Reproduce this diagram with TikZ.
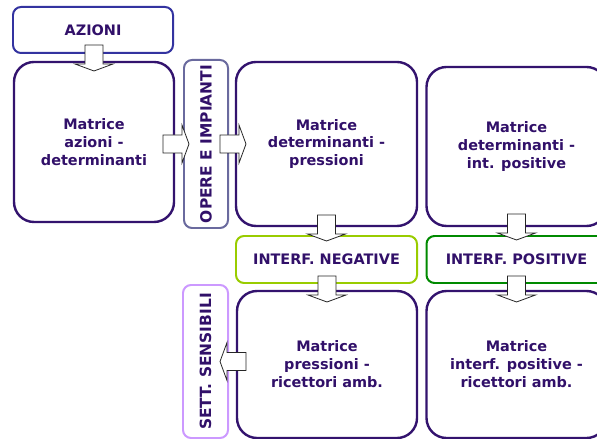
\documentclass[tikz,border=0pt]{standalone}
\usepackage{fontspec}
\newfontfamily\vfont{DejaVu Sans}
\usetikzlibrary{calc}
\definecolor{txt}{HTML}{311069}
\definecolor{mborder}{HTML}{33136E}
\definecolor{azborder}{HTML}{3333A0}
\definecolor{opborder}{HTML}{6A6A9E}
\definecolor{setborder}{HTML}{CC99FF}
\definecolor{negborder}{HTML}{99CC00}
\definecolor{posborder}{HTML}{008A00}
\tikzset{
  lbl/.style={text=txt, font=\vfont\bfseries\fontsize{14.5}{18}\selectfont, align=center, inner sep=2pt, outer sep=0pt},
  mbox/.style={lbl, draw=mborder, line width=2.4pt, rounded corners=20bp, fill=white},
  sbox/.style={lbl, draw=#1, line width=2pt, rounded corners=8bp, fill=white},
  vlbl/.style={font=\vfont\bfseries\fontsize{15.5}{18}\selectfont, rotate=90},
  blkstyle/.style={draw=black!85, fill=white, line width=0.8pt, line join=miter},
  blk/.pic={\draw[blkstyle] (-9,-26) -- (9,-26) -- (9,-7) -- (19,-7) -- (0,0) -- (-19,-7) -- (-9,-7) -- cycle;}
}
\begin{document}
\begin{tikzpicture}[x=1bp,y=-1bp]
\useasboundingbox (0,0) rectangle (597,439);
% boxes
\node[sbox=azborder, minimum width=160bp, minimum height=46bp] (az) at (93,30) {AZIONI};
\node[mbox, minimum width=160bp, minimum height=160bp] (m1) at (94,142) {Matrice\\azioni -\\determinanti};
\node[sbox=opborder, minimum width=44bp, minimum height=168bp] (op) at (206,144) {};
\node[lbl, vlbl] at (op.center) {OPERE E IMPIANTI};
\node[mbox, minimum width=181bp, minimum height=164bp] (m2) at (326.5,144) {Matrice\\determinanti -\\pressioni};
\node[mbox, minimum width=180bp, minimum height=159bp] (m3) at (516.5,146.5) {Matrice\\determinanti -\\int. positive};
\node[sbox=negborder, minimum width=181bp, minimum height=47bp] (neg) at (326.5,259.5) {INTERF. NEGATIVE};
\node[sbox=posborder, minimum width=180bp, minimum height=47bp] (pos) at (516.5,259.5) {INTERF. POSITIVE};
\node[mbox, minimum width=180bp, minimum height=147bp] (m4) at (327,364.5) {Matrice\\pressioni -\\ricettori amb.};
\node[mbox, minimum width=180bp, minimum height=147bp] (m5) at (516.5,364.5) {Matrice\\interf. positive -\\ricettori amb.};
\node[sbox=setborder, minimum width=45bp, minimum height=153bp] (set) at (205.5,361.5) {};
\node[lbl, vlbl] at (set.center) {SETT. SENSIBILI};
% block arrows
\pic at ($(m1.north)+(0,9)$) {blk};
\pic[rotate=90] at ($(op.west)+(5,0)$) {blk};
\pic[rotate=90] at ($(m2.west)+(10,0)$) {blk};
\pic at ($(neg.north)+(0,5)$) {blk};
\pic at ($(m4.north)+(0,11)$) {blk};
\pic at ($(pos.north)+(0,4)$) {blk};
\pic at ($(m5.north)+(0,11)$) {blk};
\pic[rotate=-90] at ($(set.east)+(-8,0)$) {blk};
\end{tikzpicture}
\end{document}
